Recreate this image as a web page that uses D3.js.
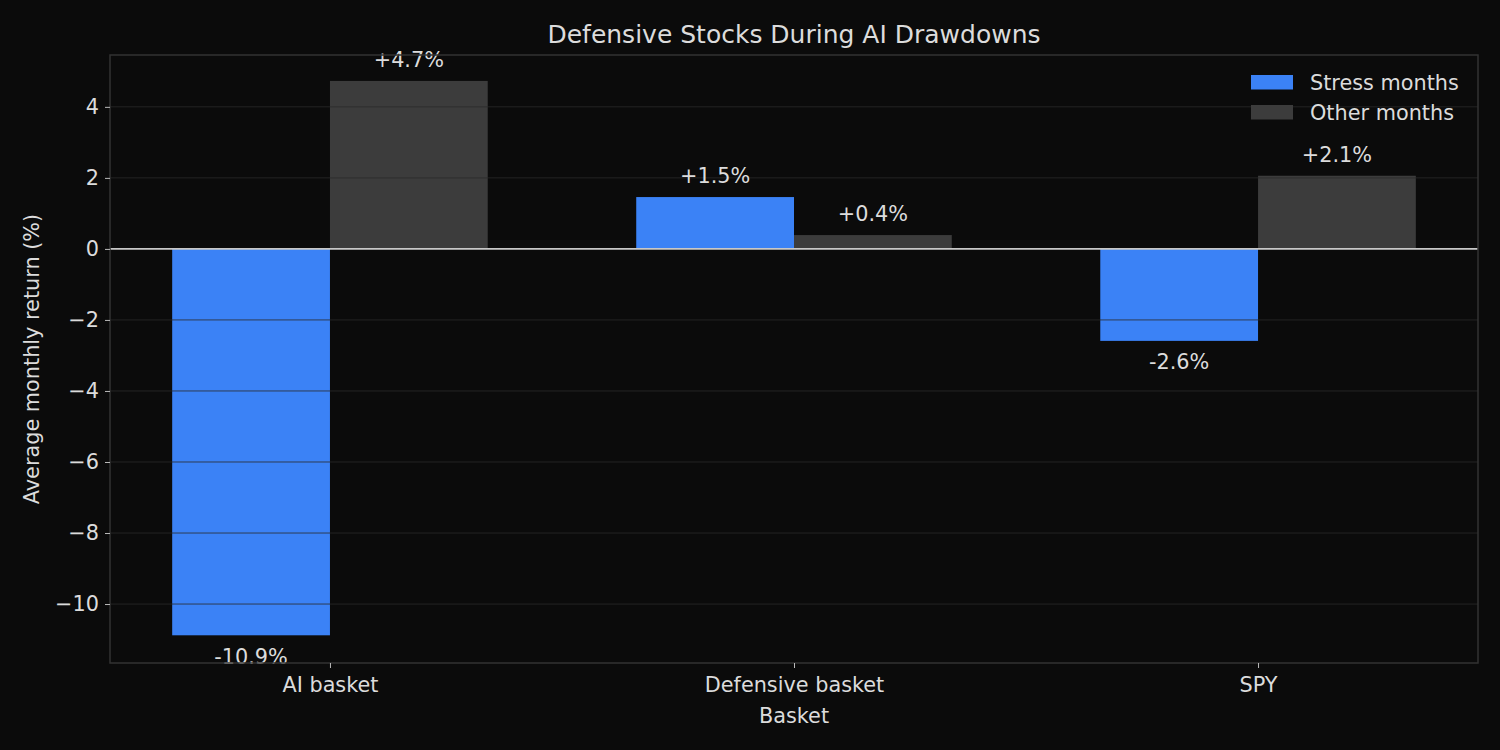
<!DOCTYPE html>
<html>
<head>
<meta charset="utf-8">
<script src="https://cdn.jsdelivr.net/npm/d3@7"></script>
<style>
  html, body { margin: 0; padding: 0; background: #0b0b0b; }
  svg text { font-family: "DejaVu Sans", sans-serif; fill: #dcdcdc; }
</style>
</head>
<body>
<div id="chart"></div>
<script>
// Data
const baskets = ["AI basket", "Defensive basket", "SPY"];
const seriesNames = ["Stress months", "Other months"];
const stressValues = [-10.88, 1.46, -2.59];
const otherValues = [4.73, 0.39, 2.06];
const yTicks = [-10, -8, -6, -4, -2, 0, 2, 4];

const W = 1500, H = 750;
const margin = { top: 55, right: 22, bottom: 87, left: 110 };
const iw = W - margin.left - margin.right;
const ih = H - margin.top - margin.bottom;
const barW = 0.34;
const fs = "20.8px";

const colors = { "Stress months": "#3b82f6", "Other months": "#3c3c3c" };

const svg = d3.select("#chart").append("svg")
    .attr("width", W)
    .attr("height", H);

svg.append("rect").attr("width", W).attr("height", H).attr("fill", "#0b0b0b");

const g = svg.append("g")
    .attr("transform", `translate(${margin.left}, ${margin.top})`);

// Scales (x is continuous, category i at position i)
const x = d3.scaleLinear().domain([-0.474, 2.474]).range([0, iw]);
const y = d3.scaleLinear().domain([-11.66, 5.46]).range([ih, 0]);

// Bars
const rows = [];
baskets.forEach((b, i) => {
    rows.push({ i, series: "Stress months", value: stressValues[i], x0: i - barW });
    rows.push({ i, series: "Other months", value: otherValues[i], x0: i });
});

g.selectAll("rect.bar")
    .data(rows)
    .enter().append("rect")
    .attr("class", "bar")
    .attr("x", d => x(d.x0))
    .attr("width", x(barW) - x(0))
    .attr("y", d => y(Math.max(0, d.value)))
    .attr("height", d => Math.abs(y(d.value) - y(0)))
    .attr("fill", d => colors[d.series]);

// Grid lines drawn above bars
g.append("g")
    .selectAll("line")
    .data(yTicks.filter(t => t !== 0))
    .enter().append("line")
    .attr("x1", 0).attr("x2", iw)
    .attr("y1", d => y(d)).attr("y2", d => y(d))
    .attr("stroke", "#2a2a2a")
    .attr("stroke-opacity", 0.8)
    .attr("stroke-width", 1);

// Zero line
g.append("line")
    .attr("x1", 0).attr("x2", iw)
    .attr("y1", y(0)).attr("y2", y(0))
    .attr("stroke", "#c8c8c8")
    .attr("stroke-width", 1.6);

// Value labels
g.selectAll("text.val")
    .data(rows)
    .enter().append("text")
    .attr("class", "val")
    .attr("x", d => x(d.x0 + barW / 2))
    .attr("y", d => d.value >= 0 ? y(d.value) - 21 : y(d.value) + 21)
    .attr("dy", "0.35em")
    .attr("text-anchor", "middle")
    .style("font-size", fs)
    .text(d => (d.value >= 0 ? "+" : "-") + Math.abs(d.value).toFixed(1) + "%");

// Spines
g.append("rect")
    .attr("x", 0).attr("y", 0)
    .attr("width", iw).attr("height", ih)
    .attr("fill", "none")
    .attr("stroke", "#333333")
    .attr("stroke-width", 1.5);

// Y axis
const yAxis = g.append("g")
    .call(d3.axisLeft(y).tickValues(yTicks).tickSize(5).tickPadding(6)
        .tickFormat(d => d < 0 ? "\u2212" + Math.abs(d) : d));
yAxis.select(".domain").remove();
yAxis.selectAll("line").attr("stroke", "#bbbbbb");
yAxis.selectAll("text").style("font-size", fs).attr("fill", "#dcdcdc");

// X axis
const xAxis = g.append("g")
    .attr("transform", `translate(0, ${ih})`)
    .call(d3.axisBottom(x).tickValues([0, 1, 2]).tickSize(5).tickPadding(9)
        .tickFormat(d => baskets[d]));
xAxis.select(".domain").remove();
xAxis.selectAll("line").attr("stroke", "#bbbbbb");
xAxis.selectAll("text").style("font-size", fs).attr("fill", "#dcdcdc");

// Axis labels
svg.append("text")
    .attr("x", margin.left + iw / 2)
    .attr("y", 723)
    .attr("text-anchor", "middle")
    .style("font-size", fs)
    .text("Basket");

svg.append("text")
    .attr("transform", `translate(39, ${margin.top + ih / 2}) rotate(-90)`)
    .attr("text-anchor", "middle")
    .style("font-size", fs)
    .text("Average monthly return (%)");

// Title
svg.append("text")
    .attr("x", margin.left + iw / 2)
    .attr("y", 43)
    .attr("text-anchor", "middle")
    .style("font-size", "25px")
    .text("Defensive Stocks During AI Drawdowns");

// Legend
const legend = svg.append("g")
    .selectAll("g")
    .data(seriesNames)
    .enter().append("g")
    .attr("transform", (d, i) => `translate(1251, ${75 + i * 30})`);

legend.append("rect")
    .attr("width", 42)
    .attr("height", 14.5)
    .attr("fill", d => colors[d]);

legend.append("text")
    .attr("x", 59)
    .attr("y", 7.5)
    .attr("dy", "0.35em")
    .style("font-size", fs)
    .text(d => d);
</script>
</body>
</html>
